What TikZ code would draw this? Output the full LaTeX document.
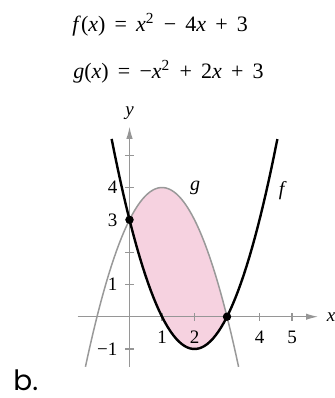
\documentclass[tikz,border=0pt]{standalone}
\usepackage{fontspec}
\setmainfont{Liberation Serif}
\newfontfamily\partfont{Poppins}
\usetikzlibrary{arrows.meta}
\definecolor{areapink}{RGB}{246,210,224}
\definecolor{axisgray}{RGB}{150,150,150}

\begin{document}
\begin{tikzpicture}[x=16.25pt,y=16.15pt,font=\fontsize{9.5}{11}\selectfont,>=Latex,
  axis/.style={line width=.55pt,axisgray},
  curveg/.style={line width=.75pt,black!40},
  curvef/.style={line width=1.2pt,black},
  dot/.style={circle,fill=black,inner sep=0,minimum size=4.2pt},
  eqn/.style={anchor=base west,inner sep=0,font=\fontsize{11}{13}\selectfont}]
 \useasboundingbox (-3.985,-2.517) rectangle (6.292,9.805);
 \node[eqn] (eqf) at (-1.77,8.845)
   {\textit{f}(\textit{x}) \,= \,\textit{x}\textsuperscript{2} \,− \,4\textit{x} \,+ \,3};
 \node[eqn] (eqg) at (-1.74,7.39)
   {\textit{g}(\textit{x}) \,= \,−\textit{x}\textsuperscript{2} \,+ \,2\textit{x} \,+ \,3};
 \fill[areapink] plot[domain=0:3,samples=40] (\x,{-(\x)*(\x)+2*(\x)+3})
   -- plot[domain=3:0,samples=40] (\x,{(\x)*(\x)-4*(\x)+3}) -- cycle;
 \coordinate (xl) at (-1.6,0);
 \coordinate (xr) at (5.8,0);
 \coordinate (yb) at (0,-1.55);
 \coordinate (yt) at (0,5.88);
 \draw[axis,-{Latex[length=6pt,width=3.2pt]}] (xl)--(xr);
 \draw[axis,-{Latex[length=6pt,width=3.2pt]}] (yb)--(yt);
 \node[inner sep=0,font=\itshape\fontsize{9.5}{11}\selectfont] (xlab) at (6.2,0) {x};
 \node[inner sep=0,font=\itshape\fontsize{9.5}{11}\selectfont] (ylab) at (0,6.3) {y};
 \foreach \k in {1,...,5}{
  \draw[axis] (\k,-.13)--(\k,.13);
 }
 \foreach \k in {-1,1,2,3,4,5}{
  \draw[axis] (-.13,\k)--(.13,\k);
 }
 \foreach \k in {1,2,4,5}{
  \node[anchor=north,inner sep=0] (xt\k) at (\k,-.44) {\k};
 }
 \foreach \k in {1,3,4}{
  \node[anchor=east,inner sep=0] (yt\k) at (-.36,\k) {\k};
 }
 \node[anchor=east,inner sep=0] (ytm) at (-.36,-1) {−1};
 \draw[curveg] plot[domain=-1.356:3.356,samples=60] (\x,{-(\x)*(\x)+2*(\x)+3});
 \draw[curvef] plot[domain=-0.55:4.55,samples=60] (\x,{(\x)*(\x)-4*(\x)+3});
 \node[font=\itshape\fontsize{10}{12}\selectfont] (glab) at (2.02,4.0) {g};
 \node[font=\itshape\fontsize{10}{12}\selectfont] (flab) at (4.68,3.9) {f};
 \node[dot] (pa) at (0,3) {};
 \node[dot] (pb) at (3,0) {};
 \node[anchor=base west,inner sep=0,font=\partfont\fontsize{14}{16}\selectfont] (part) at (-3.585,-2.30) {b.};
\end{tikzpicture}
\end{document}
